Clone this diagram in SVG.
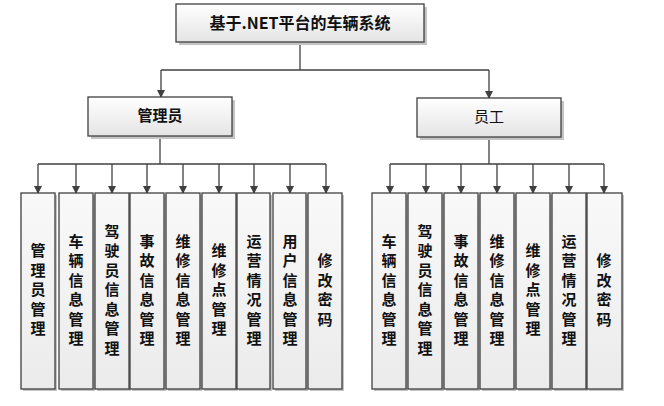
<svg xmlns="http://www.w3.org/2000/svg" width="664" height="406" viewBox="0 0 664 406">
<defs>
<linearGradient id="g" x1="0" y1="0" x2="0" y2="1">
<stop offset="0" stop-color="#ffffff"/>
<stop offset="1" stop-color="#e4e4e4"/>
</linearGradient>
<linearGradient id="gv" x1="0" y1="0" x2="0" y2="1">
<stop offset="0" stop-color="#f9f9f9"/>
<stop offset="1" stop-color="#ebebeb"/>
</linearGradient>
<marker id="arr" markerWidth="8" markerHeight="8" refX="7" refY="4" orient="auto" markerUnits="userSpaceOnUse">
<path d="M0,0 L8,4 L0,8 Z" fill="#404040"/>
</marker>
<style>
.box{fill:url(#g);stroke:#3f3f3f;stroke-width:1.3}
.vbox{fill:url(#gv);stroke:#3f3f3f;stroke-width:1.3}
.sh{fill:#c4c4c4}
.ln{fill:none;stroke:#404040;stroke-width:1.3}
.ar{fill:none;stroke:#404040;stroke-width:1.3;marker-end:url(#arr)}
.t{font-family:"Noto Sans CJK SC","Liberation Sans",sans-serif;fill:#111}
.title{font-size:16px;font-weight:bold;text-anchor:middle}
.mid{font-size:15px;font-weight:bold;text-anchor:middle}
.v{font-size:15px;font-weight:bold;text-anchor:middle;writing-mode:vertical-rl;letter-spacing:4.5px}
</style>
</defs>

<g id="connectors">
<path class="ln" d="M300,42 V70 M161,70 H489"/>
<path class="ar" d="M161,70 V97"/>
<path class="ar" d="M489,70 V98"/>
<path class="ln" d="M160,136 V164 M38,164 H326"/>
<path class="ar" d="M38,164 V193"/>
<path class="ar" d="M76,164 V193"/>
<path class="ar" d="M112,164 V193"/>
<path class="ar" d="M147,164 V193"/>
<path class="ar" d="M183,164 V193"/>
<path class="ar" d="M219,164 V193"/>
<path class="ar" d="M254,164 V193"/>
<path class="ar" d="M290,164 V193"/>
<path class="ar" d="M326,164 V193"/>
<path class="ln" d="M489,137 V164 M390,164 H604"/>
<path class="ar" d="M390,164 V193"/>
<path class="ar" d="M426,164 V193"/>
<path class="ar" d="M461,164 V193"/>
<path class="ar" d="M497,164 V193"/>
<path class="ar" d="M533,164 V193"/>
<path class="ar" d="M569,164 V193"/>
<path class="ar" d="M604,164 V193"/>
</g>

<g id="root">
<rect class="sh" x="179" y="7" width="248" height="38"/>
<rect class="box" x="176" y="4" width="248" height="38"/>
<text class="t title" x="300" y="29">基于.NET平台的车辆系统</text>
</g>

<g id="admin">
<rect class="sh" x="91" y="100" width="144" height="39"/>
<rect class="box" x="88" y="97" width="144" height="39"/>
<text class="t mid" x="160" y="121">管理员</text>
</g>

<g id="staff">
<rect class="sh" x="420" y="101" width="144" height="39"/>
<rect class="box" x="417" y="98" width="144" height="39"/>
<text class="t mid" x="489" y="122" style="font-weight:normal">员工</text>
</g>

<g id="a1"><rect class="sh" x="23" y="195" width="34" height="196"/><rect class="vbox" x="21" y="193" width="34" height="196"/><text class="t v" x="38" y="292">管理员管理</text></g>
<g id="a2"><rect class="sh" x="61" y="195" width="34" height="196"/><rect class="vbox" x="59" y="193" width="34" height="196"/><text class="t v" x="76" y="292">车辆信息管理</text></g>
<g id="a3"><rect class="sh" x="97" y="195" width="34" height="196"/><rect class="vbox" x="95" y="193" width="34" height="196"/><text class="t v" x="112" y="292">驾驶员信息管理</text></g>
<g id="a4"><rect class="sh" x="132" y="195" width="34" height="196"/><rect class="vbox" x="130" y="193" width="34" height="196"/><text class="t v" x="147" y="292">事故信息管理</text></g>
<g id="a5"><rect class="sh" x="168" y="195" width="34" height="196"/><rect class="vbox" x="166" y="193" width="34" height="196"/><text class="t v" x="183" y="292">维修信息管理</text></g>
<g id="a6"><rect class="sh" x="204" y="195" width="34" height="196"/><rect class="vbox" x="202" y="193" width="34" height="196"/><text class="t v" x="219" y="292">维修点管理</text></g>
<g id="a7"><rect class="sh" x="239" y="195" width="33" height="196"/><rect class="vbox" x="237" y="193" width="33" height="196"/><text class="t v" x="254" y="292">运营情况管理</text></g>
<g id="a8"><rect class="sh" x="275" y="195" width="33" height="196"/><rect class="vbox" x="273" y="193" width="33" height="196"/><text class="t v" x="290" y="292">用户信息管理</text></g>
<g id="a9"><rect class="sh" x="310" y="195" width="34" height="196"/><rect class="vbox" x="308" y="193" width="34" height="196"/><text class="t v" x="325" y="292">修改密码</text></g>

<g id="s1"><rect class="sh" x="374" y="195" width="34" height="196"/><rect class="vbox" x="372" y="193" width="34" height="196"/><text class="t v" x="389" y="292">车辆信息管理</text></g>
<g id="s2"><rect class="sh" x="410" y="195" width="34" height="196"/><rect class="vbox" x="408" y="193" width="34" height="196"/><text class="t v" x="425" y="292">驾驶员信息管理</text></g>
<g id="s3"><rect class="sh" x="446" y="195" width="34" height="196"/><rect class="vbox" x="444" y="193" width="34" height="196"/><text class="t v" x="461" y="292">事故信息管理</text></g>
<g id="s4"><rect class="sh" x="482" y="195" width="34" height="196"/><rect class="vbox" x="480" y="193" width="34" height="196"/><text class="t v" x="497" y="292">维修信息管理</text></g>
<g id="s5"><rect class="sh" x="518" y="195" width="34" height="196"/><rect class="vbox" x="516" y="193" width="34" height="196"/><text class="t v" x="533" y="292">维修点管理</text></g>
<g id="s6"><rect class="sh" x="554" y="195" width="34" height="196"/><rect class="vbox" x="552" y="193" width="34" height="196"/><text class="t v" x="569" y="292">运营情况管理</text></g>
<g id="s7"><rect class="sh" x="589" y="195" width="35" height="196"/><rect class="vbox" x="587" y="193" width="35" height="196"/><text class="t v" x="604" y="292">修改密码</text></g>
</svg>
